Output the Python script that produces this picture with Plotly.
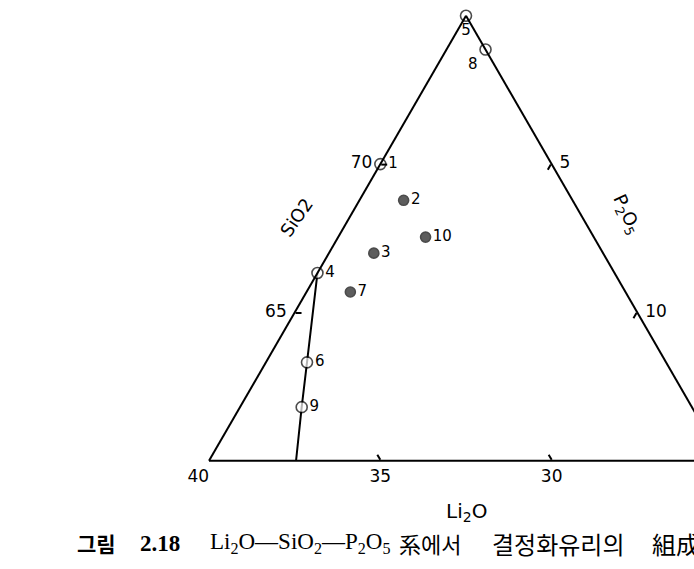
import plotly.graph_objects as go

# ---- data ----
labels = ["5", "8", "1", "2", "10", "3", "4", "7", "6", "9"]
sio2 = [75.0, 73.86, 70.0, 68.78, 67.54, 67.0, 66.33, 65.69, 63.32, 61.81]
li2o = [25.0, 25.0, 30.0, 29.93, 29.91, 31.69, 33.67, 33.03, 35.48, 36.39]
p2o5 = [0.0, 1.14, 0.0, 1.29, 2.55, 1.31, 0.0, 1.28, 1.20, 1.80]
filled = [False, False, False, True, True, True, False, True, False, False]
label_pos = ["bottom center", "bottom left", "middle right", "middle right", "middle right",
             "middle right", "middle right", "middle right", "middle right", "middle right"]

line_sio2 = [66.33, 63.32, 61.81, 60.0]
line_li2o = [33.67, 35.48, 36.39, 37.46]
line_p2o5 = [0.0, 1.20, 1.80, 2.54]

a_ticks = [65, 70]
b_ticks = [40, 35, 30]
c_ticks = [5, 10]

NB = "\u00a0"
a_ticktext = ["65" + NB, "70" + NB]
b_ticktext = ["40" + NB * 4, "35", "30"]
c_ticktext = [NB + "5", NB + "10"]

# caption pieces: (text, left-x px, font family, size)
caption_parts = [
    ("<b>그림</b>", 75, "Noto Sans CJK KR", 21),
    ("<b>2.18</b>", 138, "Liberation Serif", 23),
    ("Li<sub>2</sub>O—SiO<sub>2</sub>—P<sub>2</sub>O<sub>5</sub>", 208, "Liberation Serif", 23),
    ("系에서", 397, "Noto Sans CJK KR", 22),
    ("결정화유리의", 490, "Noto Sans CJK KR", 24),
    ("組成", 650, "Noto Sans CJK KR", 24),
]

# ---- figure ----
W, H = 760, 569
FONT = "DejaVu Sans, sans-serif"

fig = go.Figure()

fig.add_trace(go.Scatterternary(
    a=line_sio2, b=line_li2o, c=line_p2o5, mode="lines",
    line=dict(color="black", width=2), hoverinfo="skip", showlegend=False,
    cliponaxis=False,
))

fig.add_trace(go.Scatterternary(
    a=sio2, b=li2o, c=p2o5, mode="markers+text",
    text=labels, textposition=label_pos,
    textfont=dict(family=FONT, size=15, color="black"),
    marker=dict(size=[10 if f else 11 for f in filled],
                color=["#1a1a1a" if f else "white" for f in filled],
                line=dict(color="black", width=1.6)),
    showlegend=False, cliponaxis=False,
))

side = 514.0
h_tri = side * 3 ** 0.5 / 2
cx, cy = 466.0, 238.3
axis_common = dict(showline=True, linecolor="black", linewidth=2, showgrid=False,
                   ticks="inside", ticklen=6, tickwidth=1.5, tickcolor="black",
                   tickfont=dict(family=FONT, size=17, color="black"),
                   title=dict(text=""), tickmode="array")

annotations = [
    dict(text="SiO2", x=296 / W, y=(H - 217) / H, xref="paper", yref="paper",
         xanchor="center", yanchor="middle",
         showarrow=False, textangle=-55, font=dict(family=FONT, size=18)),
    dict(text="P<sub>2</sub>O<sub>5</sub>", x=626 / W, y=(H - 214) / H, xref="paper", yref="paper",
         xanchor="center", yanchor="middle",
         showarrow=False, textangle=65, font=dict(family=FONT, size=18)),
    dict(text="Li<sub>2</sub>O", x=466 / W, y=(H - 512) / H, xref="paper", yref="paper",
         xanchor="center", yanchor="middle",
         showarrow=False, font=dict(family=FONT, size=20)),
]
for txt, px, fam, sz in caption_parts:
    annotations.append(dict(text=txt, x=px / W, y=(H - 543) / H, xref="paper", yref="paper",
                            xanchor="left", yanchor="middle", showarrow=False,
                            font=dict(family=fam + ", Noto Sans CJK KR, serif", size=sz, color="black")))

fig.update_layout(
    width=W, height=H,
    margin=dict(l=0, r=0, t=0, b=0),
    paper_bgcolor="white",
    font=dict(family=FONT, color="black"),
    ternary=dict(
        sum=100,
        bgcolor="white",
        domain=dict(x=[(cx - side / 2) / W, (cx + side / 2) / W],
                    y=[(H - (cy + h_tri / 2)) / H, (H - (cy - h_tri / 2)) / H]),
        aaxis=dict(min=60, tickvals=a_ticks, ticktext=a_ticktext, **axis_common),
        baxis=dict(min=25, tickvals=b_ticks, ticktext=b_ticktext, **axis_common),
        caxis=dict(min=0, tickvals=c_ticks, ticktext=c_ticktext, **axis_common),
    ),
    annotations=annotations,
)

fig.write_html(
    "out.html",
    config={"displayModeBar": False},
    post_script="document.body.style.margin='0';document.body.style.overflow='hidden';",
)
